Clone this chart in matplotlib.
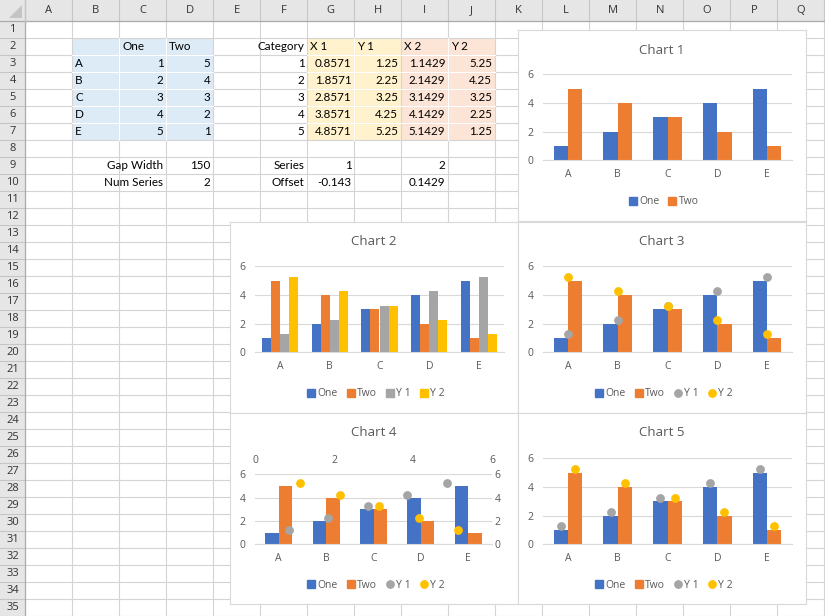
import matplotlib
matplotlib.use('Agg')
import matplotlib.pyplot as plt
from matplotlib.patches import Rectangle, Polygon
from matplotlib.lines import Line2D

# данные листа
categories = ['A', 'B', 'C', 'D', 'E']
cat_num = [1, 2, 3, 4, 5]
one = [1, 2, 3, 4, 5]
two = [5, 4, 3, 2, 1]
x1 = [0.8571, 1.8571, 2.8571, 3.8571, 4.8571]
y1 = [1.25, 2.25, 3.25, 4.25, 5.25]
x2 = [1.1429, 2.1429, 3.1429, 4.1429, 5.1429]
y2 = [5.25, 4.25, 3.25, 2.25, 1.25]
gap_width = 150
num_series = 2
series_no = [1, 2]
offsets = [-0.143, 0.1429]
col_letters = 'ABCDEFGHIJKLMNOPQ'

BLUE, ORANGE, GRAY, GOLD = '#4472C4', '#ED7D31', '#A5A5A5', '#FFC000'
TXT = '#595959'
GRID = '#D9D9D9'
MS = 5.3

plt.rcParams['font.family'] = ['Open Sans', 'DejaVu Sans']

W, H = 825, 616
fig = plt.figure(figsize=(W / 100, H / 100), dpi=100)
fig.patch.set_facecolor('white')


def frac(x0, y0, x1, y1):
    return [x0 / W, 1 - y1 / H, (x1 - x0) / W, (y1 - y0) / H]


bg = fig.add_axes([0, 0, 1, 1], zorder=0)
bg.set_xlim(0, W)
bg.set_ylim(H, 0)
bg.axis('off')

col_x = [25.3 + 47.0 * k for k in range(len(col_letters) + 1)]
row_y = [20.7 + 17.0 * n for n in range(36)]  # row_y[n-1] = верх строки n

# сетка ячеек
for x in col_x:
    bg.plot([x, x], [row_y[0], H], color='#D4D4D4', lw=0.8, zorder=1)
for y in row_y:
    bg.plot([col_x[0], W], [y, y], color='#D4D4D4', lw=0.8, zorder=1)


def fill(c0, r0, c1, r1, color):
    a, b = col_letters.index(c0), col_letters.index(c1) + 1
    bg.add_patch(Rectangle((col_x[a], row_y[r0 - 1]), col_x[b] - col_x[a],
                           row_y[r1] - row_y[r0 - 1], fc=color, ec='none', zorder=0.5))
    for k in range(a + 1, b):
        bg.plot([col_x[k], col_x[k]], [row_y[r0 - 1], row_y[r1]], color='white', lw=0.8, zorder=1.5)
    for r in range(r0, r1):
        bg.plot([col_x[a], col_x[b]], [row_y[r], row_y[r]], color='white', lw=0.8, zorder=1.5)


fill('B', 2, 'D', 7, '#DDEBF7')
fill('G', 2, 'H', 7, '#FFF2CC')
fill('I', 2, 'J', 7, '#FCE4D6')


def cell(col, row, text, ha='right'):
    k = col_letters.index(col)
    x = col_x[k] + 3 if ha == 'left' else col_x[k + 1] - 3
    y = (row_y[row - 1] + row_y[row]) / 2 + 0.5
    bg.text(x, y, text, ha=ha, va='center', fontsize=8.4, family=['Lato', 'DejaVu Sans'],
            color='black', zorder=3)


def fmt(v):
    return f'{v:g}'


cell('C', 2, 'One', 'left')
cell('D', 2, 'Two', 'left')
cell('F', 2, 'Category')
cell('G', 2, 'X 1', 'left')
cell('H', 2, 'Y 1', 'left')
cell('I', 2, 'X 2', 'left')
cell('J', 2, 'Y 2', 'left')
for i in range(len(categories)):
    r = 3 + i
    cell('B', r, categories[i], 'left')
    cell('C', r, fmt(one[i]))
    cell('D', r, fmt(two[i]))
    cell('F', r, fmt(cat_num[i]))
    cell('G', r, fmt(x1[i]))
    cell('H', r, fmt(y1[i]))
    cell('I', r, fmt(x2[i]))
    cell('J', r, fmt(y2[i]))
cell('C', 9, 'Gap Width')
cell('D', 9, fmt(gap_width))
cell('C', 10, 'Num Series')
cell('D', 10, fmt(num_series))
cell('F', 9, 'Series')
cell('G', 9, fmt(series_no[0]))
cell('I', 9, fmt(series_no[1]))
cell('F', 10, 'Offset')
cell('G', 10, fmt(offsets[0]))
cell('I', 10, fmt(offsets[1]))

# заголовки строк и столбцов
bg.add_patch(Rectangle((0, 0), W, row_y[0], fc='#E6E6E6', ec='none', zorder=2))
bg.add_patch(Rectangle((0, 0), col_x[0], H, fc='#E6E6E6', ec='none', zorder=2))
for k, letter in enumerate(col_letters):
    bg.plot([col_x[k + 1], col_x[k + 1]], [0, row_y[0]], color='#C6C6C6', lw=0.8, zorder=2.5)
    bg.text((col_x[k] + col_x[k + 1]) / 2, row_y[0] / 2 + 0.5, letter, ha='center', va='center',
            fontsize=8, color='#333333', zorder=3)
for n in range(1, 36):
    bg.plot([0, col_x[0]], [row_y[n], row_y[n]], color='#C6C6C6', lw=0.8, zorder=2.5)
    bg.text(col_x[0] / 2, (row_y[n - 1] + row_y[n]) / 2 + 0.5, str(n), ha='center', va='center',
            fontsize=8, color='#333333', zorder=3)
bg.plot([0, W], [row_y[0], row_y[0]], color='#ABABAB', lw=0.9, zorder=2.6)
bg.plot([col_x[0], col_x[0]], [0, H], color='#ABABAB', lw=0.9, zorder=2.6)
bg.plot([col_x[0], col_x[0]], [0, row_y[0]], color='#C6C6C6', lw=0.8, zorder=2.7)
bg.add_patch(Polygon([(21.5, 5), (21.5, 17.5), (9, 17.5)], closed=True, fc='#C4C4C4', ec='none', zorder=3))


def chart(box, plot, title):
    x0, y0, x1_, y1_ = box
    fr = fig.add_axes(frac(*box), zorder=1)
    fr.set_xticks([])
    fr.set_yticks([])
    fr.set_facecolor('white')
    for s in fr.spines.values():
        s.set_color(GRID)
        s.set_linewidth(0.8)
    fig.text((x0 + x1_) / 2 / W, 1 - (y0 + 20) / H, title, ha='center', va='center',
             fontsize=9.5, color=TXT, zorder=5)
    ax = fig.add_axes(frac(*plot), zorder=2)
    ax.set_facecolor('none')
    for s in ['top', 'right', 'left']:
        ax.spines[s].set_visible(False)
    ax.spines['bottom'].set_color(GRID)
    ax.set_ylim(0, 6)
    ax.set_yticks([0, 2, 4, 6])
    ax.yaxis.grid(True, color=GRID, lw=0.8)
    ax.set_axisbelow(True)
    ax.set_xlim(0.5, 5.5)
    ax.set_xticks(cat_num, categories)
    ax.tick_params(length=0, labelsize=7.5, labelcolor=TXT)
    ax.tick_params(axis='x', pad=6)
    ax.tick_params(axis='y', pad=7)
    return ax


def bars(ax, series, colors):
    n = len(series)
    w = 1 / (n + gap_width / 100)
    for i, (vals, c) in enumerate(zip(series, colors)):
        ax.bar([p + (i - (n - 1) / 2) * w for p in cat_num], vals, w, color=c, zorder=2)


def legend(box, labels, colors, markers):
    x0, y0, x1_, y1_ = box
    handles = [Line2D([], [], marker=m, linestyle='none', color=c, markersize=5.5 if m == 's' else MS)
               for c, m in zip(colors, markers)]
    fig.legend(handles, labels, loc='center', bbox_to_anchor=((x0 + x1_) / 2 / W + 2 / W, 1 - (y1_ - 19) / H),
               ncol=len(labels), frameon=False, fontsize=7.5, labelcolor=TXT, handlelength=0.7,
               handletextpad=0.25, columnspacing=0.9, borderaxespad=0, borderpad=0)


# Chart 1
box1 = (518, 30, 806, 221)
ax1 = chart(box1, (543, 74.3, 792, 160.3), 'Chart 1')
bars(ax1, [one, two], [BLUE, ORANGE])
legend(box1, ['One', 'Two'], [BLUE, ORANGE], ['s', 's'])

# Chart 2
box2 = (230, 222, 518, 413)
ax2 = chart(box2, (255, 266.3, 504, 352.3), 'Chart 2')
bars(ax2, [one, two, y1, y2], [BLUE, ORANGE, GRAY, GOLD])
legend(box2, ['One', 'Two', 'Y 1', 'Y 2'], [BLUE, ORANGE, GRAY, GOLD], ['s', 's', 's', 's'])

# Chart 3
box3 = (518, 222, 806, 413)
ax3 = chart(box3, (543, 266.3, 792, 352.3), 'Chart 3')
bars(ax3, [one, two], [BLUE, ORANGE])
ax3.plot(cat_num, y1, 'o', color=GRAY, ms=MS, zorder=3)
ax3.plot(cat_num, y2, 'o', color=GOLD, ms=MS, zorder=3)
legend(box3, ['One', 'Two', 'Y 1', 'Y 2'], [BLUE, ORANGE, GRAY, GOLD], ['s', 's', 'o', 'o'])

# Chart 4
box4 = (230, 413, 518, 604)
plot4 = (255, 474.3, 492, 544.3)
ax4 = chart(box4, plot4, 'Chart 4')
bars(ax4, [one, two], [BLUE, ORANGE])
sec = fig.add_axes(frac(*plot4), zorder=3)
sec.set_facecolor('none')
for s in sec.spines.values():
    s.set_visible(False)
sec.set_xlim(0, 6)
sec.set_ylim(0, 6)
sec.xaxis.tick_top()
sec.yaxis.tick_right()
sec.set_xticks([0, 2, 4, 6])
sec.set_yticks([0, 2, 4, 6])
sec.tick_params(length=0, labelsize=7.5, labelcolor=TXT)
sec.tick_params(axis='x', pad=6)
sec.tick_params(axis='y', pad=2)
sec.plot(x1, y1, 'o', color=GRAY, ms=MS, zorder=3)
sec.plot(x2, y2, 'o', color=GOLD, ms=MS, zorder=3)
legend(box4, ['One', 'Two', 'Y 1', 'Y 2'], [BLUE, ORANGE, GRAY, GOLD], ['s', 's', 'o', 'o'])

# Chart 5
box5 = (518, 413, 806, 604)
ax5 = chart(box5, (543, 458.3, 792, 544.3), 'Chart 5')
bars(ax5, [one, two], [BLUE, ORANGE])
ax5.plot(x1, y1, 'o', color=GRAY, ms=MS, zorder=3)
ax5.plot(x2, y2, 'o', color=GOLD, ms=MS, zorder=3)
legend(box5, ['One', 'Two', 'Y 1', 'Y 2'], [BLUE, ORANGE, GRAY, GOLD], ['s', 's', 'o', 'o'])

fig.savefig('out.png', dpi=100)
